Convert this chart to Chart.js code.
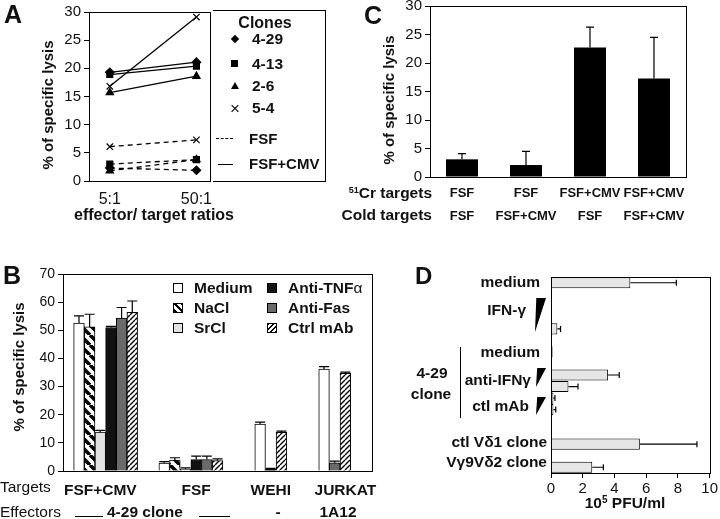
<!DOCTYPE html>
<html>
<head>
<meta charset="utf-8">
<script src="https://cdn.jsdelivr.net/npm/chart.js@4.4.1/dist/chart.umd.min.js"></script>
<style>
body { margin: 0; background: #fff; width: 720px; height: 519px; overflow: hidden; position: relative; font-family: 'Liberation Sans', Arial, sans-serif; color: #111; }
canvas { position: absolute; }
.t { position: absolute; white-space: nowrap; font-weight: bold; font-size: 15.5px; line-height: 1; }
.n { font-weight: normal; }
.cc { transform: translate(-50%, -50%); }
.rc { transform: translate(-100%, -50%); }
.lc { transform: translate(0, -50%); }
.rot { transform: translate(-50%, -50%) rotate(-90deg); }
.box { position: absolute; width: 10px; height: 10px; border: 1px solid #000; box-sizing: border-box; }
.wedge { position: absolute; background: #000; clip-path: polygon(12% 0, 100% 0, 0 100%); }
.ln { position: absolute; border-top: 1px solid #000; }
</style>
</head>
<body>
<canvas id="cA" width="216" height="215" style="left:0;top:0"></canvas>
<canvas id="cC" width="330" height="238" style="left:360px;top:-6px"></canvas>
<canvas id="cB" width="380" height="264" style="left:0;top:255px"></canvas>
<canvas id="cD" width="180" height="264" style="left:540px;top:255px"></canvas>

<!-- panel A -->
<div class="t lc" style="left:4px;top:14px;font-size:25px">A</div>
<div class="t rot" style="left:47px;top:105px;font-size:15px">% of specific lysis</div>
<div class="t cc" style="left:154px;top:215px;font-size:16px">effector/ target ratios</div>
<div style="position:absolute;left:213px;top:10px;width:113px;height:172px;border:1px solid #000;border-left:none;box-sizing:border-box"></div>
<div class="t cc" style="left:265px;top:23px;font-size:16px">Clones</div>
<div style="position:absolute;left:232px;top:36px;width:6px;height:6px;background:#000;transform:rotate(45deg)"></div>
<div style="position:absolute;left:231px;top:60px;width:7px;height:7px;background:#000"></div>
<div style="position:absolute;left:231px;top:82px;width:0;height:0;border-left:4px solid transparent;border-right:4px solid transparent;border-bottom:7px solid #000"></div>
<div class="t n cc" style="left:235px;top:108px;font-size:17px">×</div>
<div class="t lc" style="left:252px;top:39px;font-size:15.5px">4-29</div>
<div class="t lc" style="left:252px;top:64px;font-size:15.5px">4-13</div>
<div class="t lc" style="left:252px;top:86px;font-size:15.5px">2-6</div>
<div class="t lc" style="left:252px;top:108px;font-size:15.5px">5-4</div>
<div style="position:absolute;left:216px;top:138px;width:17px;border-top:1.5px dashed #000"></div>
<div class="t lc" style="left:249px;top:138px;font-size:15px">FSF</div>
<div style="position:absolute;left:218px;top:164px;width:15px;border-top:1.5px solid #000"></div>
<div class="t lc" style="left:249px;top:163px;font-size:15px">FSF+CMV</div>

<!-- panel C -->
<div class="t lc" style="left:364px;top:15px;font-size:25px">C</div>
<div class="t rot" style="left:388px;top:100px;font-size:15px">% of specific lysis</div>
<div class="t rc" style="left:432px;top:193px"><sup style="font-size:9px;vertical-align:5px">51</sup>Cr targets</div>
<div class="t rc" style="left:432px;top:215px">Cold targets</div>

<!-- panel B -->
<div class="t lc" style="left:3px;top:275px;font-size:25px">B</div>
<div class="t rot" style="left:18px;top:367px;font-size:15px">% of specific lysis</div>
<div class="box" id="lgMedium" style="left:173px;top:283px"></div>
<div class="box" id="lgNaCl" style="left:173px;top:303px"></div>
<div class="box" id="lgSrCl" style="left:173px;top:323px"></div>
<div class="box" id="lgTnf" style="left:267px;top:283px"></div>
<div class="box" id="lgFas" style="left:267px;top:303px"></div>
<div class="box" id="lgCtrl" style="left:267px;top:323px"></div>
<div class="t lc" style="left:194px;top:288px">Medium</div>
<div class="t lc" style="left:194px;top:308px">NaCl</div>
<div class="t lc" style="left:194px;top:328px">SrCl</div>
<div class="t lc" style="left:288px;top:288px">Anti-TNF<span class="n">α</span></div>
<div class="t lc" style="left:288px;top:308px">Anti-Fas</div>
<div class="t lc" style="left:288px;top:328px">Ctrl mAb</div>
<div class="t n lc" style="left:0;top:487px;font-size:15.5px">Targets</div>
<div class="t n lc" style="left:0;top:512px">Effectors</div>
<div class="ln" style="left:75px;top:516px;width:28px"></div>
<div class="t lc" style="left:107px;top:512px">4-29 clone</div>
<div class="ln" style="left:199px;top:516px;width:31px"></div>
<div class="t cc" style="left:278px;top:512px">-</div>
<div class="t cc" style="left:338px;top:512px">1A12</div>

<!-- panel D -->
<div class="t lc" style="left:415px;top:276px;font-size:24px">D</div>
<div class="t rc" style="left:540px;top:282px">medium</div>
<div class="t rc" style="left:526px;top:310px">IFN-γ</div>
<div class="t rc" style="left:540px;top:352px">medium</div>
<div class="t rc" style="left:531px;top:380px">anti-IFNγ</div>
<div class="t rc" style="left:529px;top:406px">ctl mAb</div>
<div class="t rc" style="left:547px;top:442px">ctl Vδ1 clone</div>
<div class="t rc" style="left:547px;top:462px">Vγ9Vδ2 clone</div>
<div class="t cc" style="left:432px;top:373px">4-29</div>
<div class="t cc" style="left:431px;top:394px">clone</div>
<div style="position:absolute;left:460px;top:347px;height:71px;border-left:1px solid #000"></div>
<div class="wedge" style="left:535px;top:298px;width:11px;height:34px"></div>
<div class="wedge" style="left:536px;top:368px;width:10px;height:19px"></div>
<div class="wedge" style="left:536px;top:397px;width:10px;height:18px"></div>
<div class="t cc" style="left:625px;top:503px">10<sup style="font-size:10px;vertical-align:5px">5</sup> PFU/ml</div>

<script>
// ---- A: lysis by effector/target ratio
const ratios = ['5:1', '50:1'];
const clones = ['4-29', '4-13', '2-6', '5-4'];
const cloneMarks = ['rectRot', 'rect', 'triangle', 'crossRot'];
const lysisFsfCmv = [[19.3, 21.1], [18.9, 20.4], [15.7, 18.6], [16.8, 29.1]];
const lysisFsf = [[2.3, 1.9], [3.0, 3.8], [1.8, 3.8], [6.1, 7.3]];

// ---- B: inhibitors
const targetsB = ['FSF+CMV', 'FSF', 'WEHI', 'JURKAT'];
const treatments = ['Medium', 'NaCl', 'SrCl', 'Anti-TNFα', 'Anti-Fas', 'Ctrl mAb'];
const bMedium = [52.6, 2.8, 16.7, 36.2];
const bNaCl = [51.2, 3.9, null, null];
const bSrCl = [13.8, 0.7, null, null];
const bAntiTnf = [51.0, 4.1, 0.6, null];
const bAntiFas = [54.3, 4.1, null, 2.9];
const bCtrl = [56.4, 3.7, 13.7, 34.7];
const bMediumErr = [2.5, 0.5, 0.7, 0.9];
const bNaClErr = [4.5, 0.8, null, null];
const bSrClErr = [0.6, 0.4, null, null];
const bAntiTnfErr = [0.4, 1.2, 0.3, null];
const bAntiFasErr = [3.8, 1.2, null, 0.6];
const bCtrlErr = [4.0, 0.6, 0.5, 0.4];

// ---- C: cold target competition
const crTargets = ['FSF', 'FSF', 'FSF+CMV', 'FSF+CMV'];
const coldTargets = ['FSF', 'FSF+CMV', 'FSF', 'FSF+CMV'];
const lysisC = [3.1, 2.1, 22.7, 17.3];
const lysisCErr = [1.0, 2.4, 3.6, 7.2];

// ---- D: virus titres
const dRows = ['medium', 'IFN-γ high', 'IFN-γ low', '4-29 medium', 'anti-IFNγ high', 'anti-IFNγ low', 'ctl mAb high', 'ctl mAb low', 'ctl Vδ1 clone', 'Vγ9Vδ2 clone'];
const pfu = [5.0, 0.05, 0.4, 0.1, 3.6, 1.1, 0.15, 0.15, 5.6, 2.6];
const pfuErr = [2.9, 0, 0.2, 0, 0.7, 0.6, 0.1, 0.15, 3.6, 0.7];

// layout: slot positions of bars along the category axes
const bSlotCount = 29;
const bGroupStart = [1, 9, 18, 24];
const bLabelSlot = [3, 12, 19, 26];
const dSlotCount = 17;
const dSlot = [0, 3, 4, 6, 8, 9, 10, 11, 14, 16];

Chart.defaults.font.family = "'Liberation Sans', Arial, sans-serif";
Chart.defaults.color = '#111';
Chart.defaults.animation = false;
Chart.defaults.responsive = false;
Chart.defaults.plugins.legend.display = false;
Chart.defaults.plugins.tooltip.enabled = false;

const framePlugin = {
    id: 'frame',
    afterDraw(chart) {
        const a = chart.chartArea, ctx = chart.ctx;
        ctx.save();
        ctx.strokeStyle = '#000';
        ctx.lineWidth = 1;
        ctx.strokeRect(Math.round(a.left) + 0.5, Math.round(a.top) + 0.5, Math.round(a.right - a.left), Math.round(a.bottom - a.top));
        ctx.restore();
    }
};

const errorPlugin = {
    id: 'errbars',
    afterDatasetsDraw(chart, args, opts) {
        const ctx = chart.ctx;
        const horiz = chart.options.indexAxis === 'y';
        const vScale = horiz ? chart.scales.x : chart.scales.y;
        const c = (opts.cap || 8) / 2;
        ctx.save();
        ctx.strokeStyle = '#000';
        ctx.lineWidth = 1.2;
        chart.data.datasets.forEach((ds, i) => {
            if (!ds.errors) return;
            chart.getDatasetMeta(i).data.forEach((el, j) => {
                const v = ds.data[j], e = ds.errors[j];
                if (v == null || !e) return;
                const end = vScale.getPixelForValue(v + e);
                ctx.beginPath();
                if (horiz) {
                    ctx.moveTo(el.x, el.y); ctx.lineTo(end, el.y);
                    ctx.moveTo(end, el.y - c); ctx.lineTo(end, el.y + c);
                } else {
                    ctx.moveTo(el.x, el.y); ctx.lineTo(el.x, end);
                    ctx.moveTo(el.x - c, end); ctx.lineTo(el.x + c, end);
                }
                ctx.stroke();
            });
        });
        ctx.restore();
    }
};

function hatch(dir, width, period) {
    const cv = document.createElement('canvas');
    cv.width = cv.height = period;
    const x = cv.getContext('2d');
    x.fillStyle = '#fff';
    x.fillRect(0, 0, period, period);
    x.strokeStyle = '#000';
    x.lineWidth = width;
    x.beginPath();
    for (let k = -1; k <= 1; k++) {
        if (dir === '\\') { x.moveTo(k * period, 0); x.lineTo(k * period + period, period); }
        else { x.moveTo(k * period, period); x.lineTo(k * period + period, 0); }
    }
    x.stroke();
    return x.createPattern(cv, 'repeat');
}

const axisLine = { color: '#000', width: 1 };
const tickMarks = { drawOnChartArea: false, tickLength: 5, color: '#000' };

// ---- chart A
let aSets = [];
clones.forEach((c, k) => {
    [[lysisFsfCmv, []], [lysisFsf, [5, 4]]].forEach(([vals, dash]) => {
        aSets.push({
            label: c,
            data: ratios.map((r, i) => ({ x: i, y: vals[k][i] })),
            borderColor: '#000',
            borderWidth: 1.3,
            borderDash: dash,
            pointStyle: cloneMarks[k],
            pointRadius: k === 3 ? 4.5 : 4.2,
            pointBackgroundColor: '#000',
            pointBorderColor: '#000',
            pointBorderWidth: 1.2,
            fill: false
        });
    });
});
new Chart(document.getElementById('cA'), {
    type: 'line',
    data: { datasets: aSets },
    options: {
        layout: { padding: { top: 10, right: 3 } },
        scales: {
            x: {
                type: 'linear', min: -0.24, max: 1.16,
                afterBuildTicks: s => { s.ticks = ratios.map((r, i) => ({ value: i })); },
                ticks: { callback: v => ratios[v], font: { size: 16 }, padding: 1 },
                grid: { display: false },
                border: axisLine,
                afterFit: s => { s.height = 34; }
            },
            y: {
                min: 0, max: 30,
                ticks: { stepSize: 5, font: { size: 15 }, padding: 3 },
                grid: tickMarks,
                border: axisLine,
                afterFit: s => { s.width = 89; }
            }
        }
    },
    plugins: [framePlugin]
});

// ---- chart B
const bSeries = [bMedium, bNaCl, bSrCl, bAntiTnf, bAntiFas, bCtrl];
const bErrors = [bMediumErr, bNaClErr, bSrClErr, bAntiTnfErr, bAntiFasErr, bCtrlErr];
const bFills = ['#fff', hatch('\\', 3.6, 10), '#e2e2e2', '#111', '#6a6a6a', hatch('/', 1.4, 5)];
const bData = bSeries.map(() => Array(bSlotCount).fill(null));
const bErrData = bSeries.map(() => Array(bSlotCount).fill(null));
targetsB.forEach((t, g) => {
    let k = 0;
    bSeries.forEach((s, j) => {
        if (s[g] == null) return;
        const slot = bGroupStart[g] + k++;
        bData[j][slot] = s[g];
        bErrData[j][slot] = bErrors[j][g];
    });
});
new Chart(document.getElementById('cB'), {
    type: 'bar',
    data: {
        labels: Array.from({ length: bSlotCount }, (_, i) => i),
        datasets: treatments.map((name, j) => ({
            label: name,
            data: bData[j],
            errors: bErrData[j],
            backgroundColor: bFills[j],
            borderColor: '#000',
            borderWidth: 1,
            barPercentage: 1,
            categoryPercentage: 1
        }))
    },
    options: {
        layout: { padding: { top: 19, right: 8 } },
        plugins: { errbars: { cap: 10 } },
        scales: {
            x: {
                stacked: true,
                ticks: {
                    autoSkip: false, maxRotation: 0, minRotation: 0, padding: 2,
                    font: { size: 15.5, weight: 'bold' },
                    callback: (v, i) => { const g = bLabelSlot.indexOf(i); return g >= 0 ? targetsB[g] : ''; }
                },
                grid: { display: false },
                border: axisLine,
                afterFit: s => { s.height = 48; }
            },
            y: {
                min: 0, max: 70,
                ticks: { stepSize: 10, font: { size: 14 }, padding: 3 },
                grid: tickMarks,
                border: axisLine,
                afterFit: s => { s.width = 63; }
            }
        }
    },
    plugins: [framePlugin, errorPlugin]
});

// legend swatches for B
document.getElementById('lgMedium').style.background = '#fff';
document.getElementById('lgNaCl').style.background = 'repeating-linear-gradient(45deg, #000 0 2.5px, #fff 2.5px 5px)';
document.getElementById('lgSrCl').style.background = '#e2e2e2';
document.getElementById('lgTnf').style.background = '#111';
document.getElementById('lgFas').style.background = '#6a6a6a';
document.getElementById('lgCtrl').style.background = 'repeating-linear-gradient(-45deg, #000 0 1px, #fff 1px 3.5px)';

// ---- chart C
new Chart(document.getElementById('cC'), {
    type: 'bar',
    data: {
        labels: crTargets.map((t, i) => [t, coldTargets[i]]),
        datasets: [{ data: lysisC, errors: lysisCErr, backgroundColor: '#000', barPercentage: 0.5, categoryPercentage: 1 }]
    },
    options: {
        layout: { padding: { top: 11, right: 4 } },
        plugins: { errbars: { cap: 8 } },
        scales: {
            x: {
                ticks: { autoSkip: false, maxRotation: 0, padding: -3, font: { size: 13, weight: 'bold', lineHeight: 1.75 } },
                grid: { display: false },
                border: axisLine,
                afterFit: s => { s.height = 55; }
            },
            y: {
                min: 0, max: 30,
                ticks: { stepSize: 5, font: { size: 15 }, padding: 3 },
                grid: tickMarks,
                border: axisLine,
                afterFit: s => { s.width = 70; }
            }
        }
    },
    plugins: [framePlugin, errorPlugin]
});

// ---- chart D
const dData = Array(dSlotCount).fill(null);
const dErrData = Array(dSlotCount).fill(null);
dRows.forEach((r, i) => { dData[dSlot[i]] = pfu[i]; dErrData[dSlot[i]] = pfuErr[i]; });
new Chart(document.getElementById('cD'), {
    type: 'bar',
    data: {
        labels: Array.from({ length: dSlotCount }, (_, i) => i),
        datasets: [{ data: dData, errors: dErrData, backgroundColor: '#e6e6e6', borderColor: '#000', borderWidth: 1, barPercentage: 0.97, categoryPercentage: 1 }]
    },
    options: {
        indexAxis: 'y',
        layout: { padding: { top: 22, right: 8 } },
        plugins: { errbars: { cap: 6 } },
        scales: {
            y: {
                ticks: { display: false },
                grid: { display: false },
                border: axisLine,
                afterFit: s => { s.width = 11; }
            },
            x: {
                min: 0, max: 10,
                ticks: { stepSize: 2, font: { size: 15 }, padding: 2 },
                grid: tickMarks,
                border: axisLine,
                afterFit: s => { s.height = 46; }
            }
        }
    },
    plugins: [framePlugin, errorPlugin]
});
</script>
</body>
</html>
